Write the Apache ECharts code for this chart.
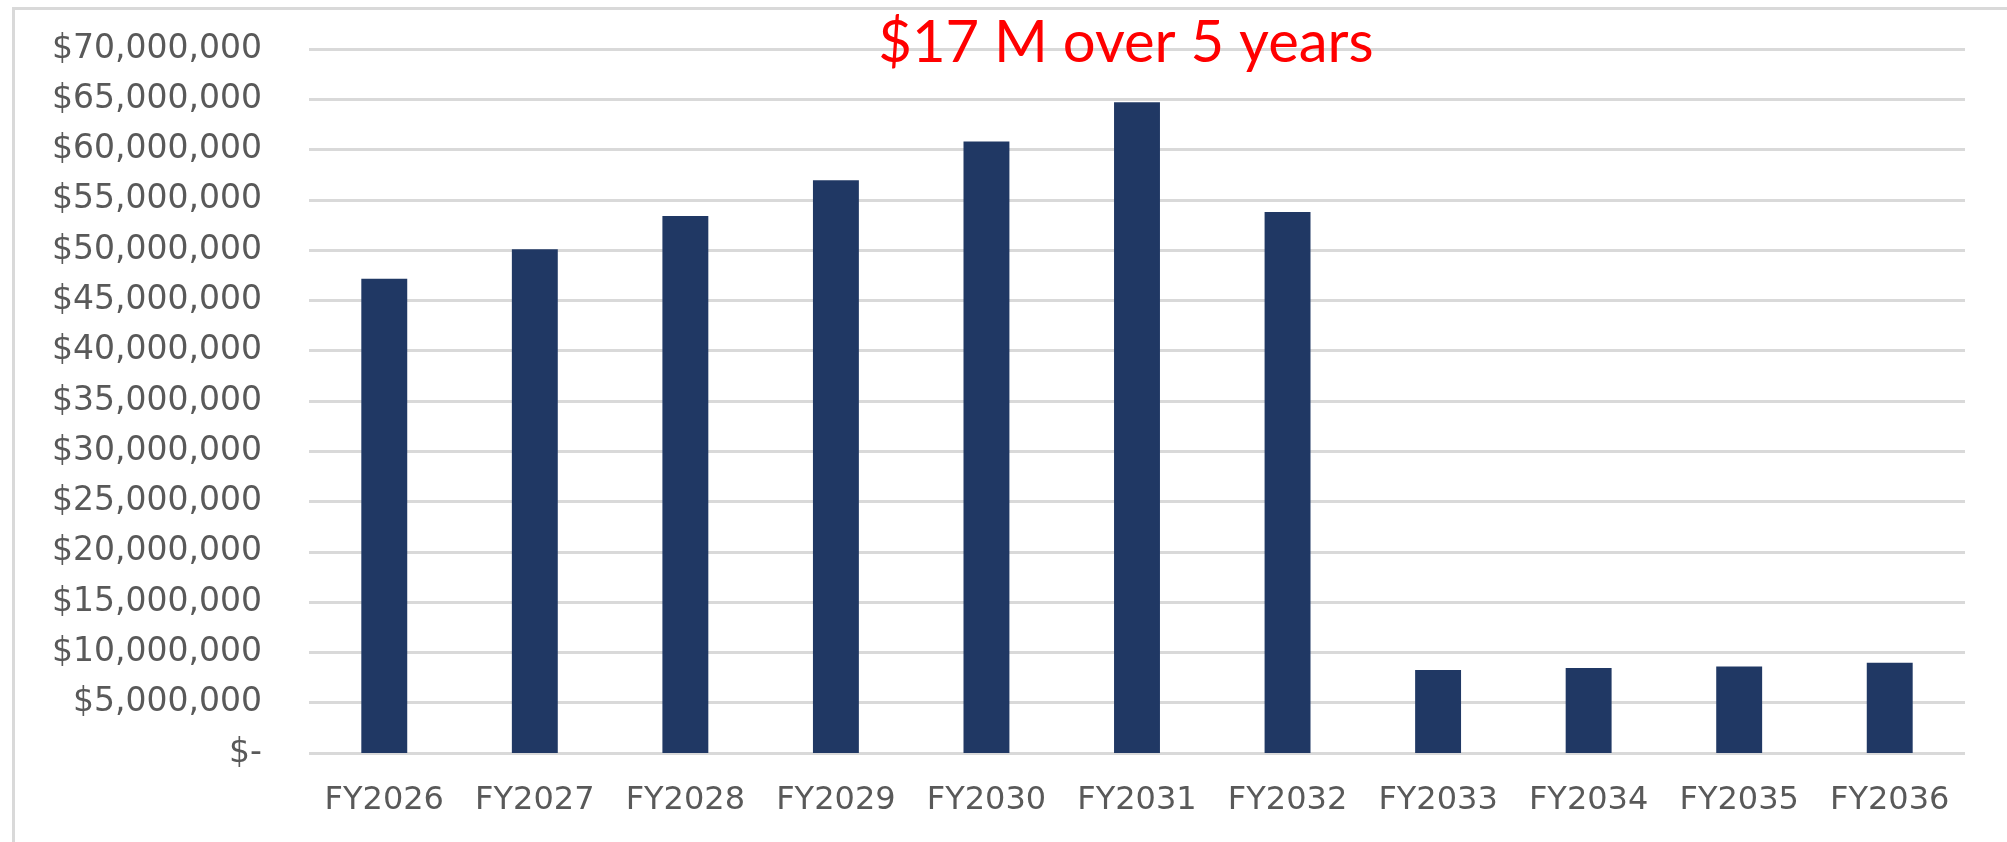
<!DOCTYPE html>
<html>
<head>
<meta charset="utf-8">
<script src="https://cdn.jsdelivr.net/npm/echarts@6/dist/echarts.min.js"></script>
<style>
  html, body { margin: 0; padding: 0; background: #fff; }
  #main { width: 2007px; height: 842px; }
</style>
</head>
<body>
<div id="main"></div>
<script>
// fiscal years and yearly amounts (USD)
var years = ['FY2026', 'FY2027', 'FY2028', 'FY2029', 'FY2030', 'FY2031',
             'FY2032', 'FY2033', 'FY2034', 'FY2035', 'FY2036'];
var amounts = [47150000, 50100000, 53400000, 56950000, 60800000, 64700000,
               53800000, 8250000, 8450000, 8600000, 8980000];
var yMin = 0;
var yMax = 70000000;
var yStep = 5000000;
var note = '$17 M over 5 years';

var myChart = echarts.init(document.getElementById('main'));
myChart.setOption({
    animation: false,
    title: {
        text: note,
        left: 1121,
        textAlign: 'center',
        top: 9,
        textStyle: {
            color: '#ff0000',
            fontFamily: 'Lato',
            fontWeight: 'normal',
            fontSize: 58
        }
    },
    graphic: [
        {
            type: 'rect',
            left: 11,
            top: 6,
            shape: { width: 2100, height: 900 },
            style: { fill: 'none', stroke: '#d9d9d9', lineWidth: 3 },
            silent: true
        }
    ],
    grid: {
        left: 309,
        right: 42,
        top: 49,
        bottom: 89
    },
    xAxis: {
        type: 'category',
        data: years,
        axisLine: { show: false },
        axisTick: { show: false },
        axisLabel: {
            interval: 0,
            margin: 32,
            color: '#595959',
            fontFamily: 'DejaVu Sans',
            fontSize: 32
        }
    },
    yAxis: {
        type: 'value',
        min: yMin,
        max: yMax,
        interval: yStep,
        axisLine: { show: false },
        axisTick: { show: false },
        splitLine: { lineStyle: { color: '#d9d9d9', width: 3 } },
        axisLabel: {
            margin: 47,
            color: '#595959',
            fontFamily: 'DejaVu Sans',
            fontSize: 33,
            formatter: function (v) {
                return v === 0 ? '$-' : '$' + v.toLocaleString('en-US');
            }
        }
    },
    series: [
        {
            type: 'bar',
            data: amounts,
            barWidth: '30.5%',
            itemStyle: { color: '#203864' }
        }
    ]
});
</script>
</body>
</html>
